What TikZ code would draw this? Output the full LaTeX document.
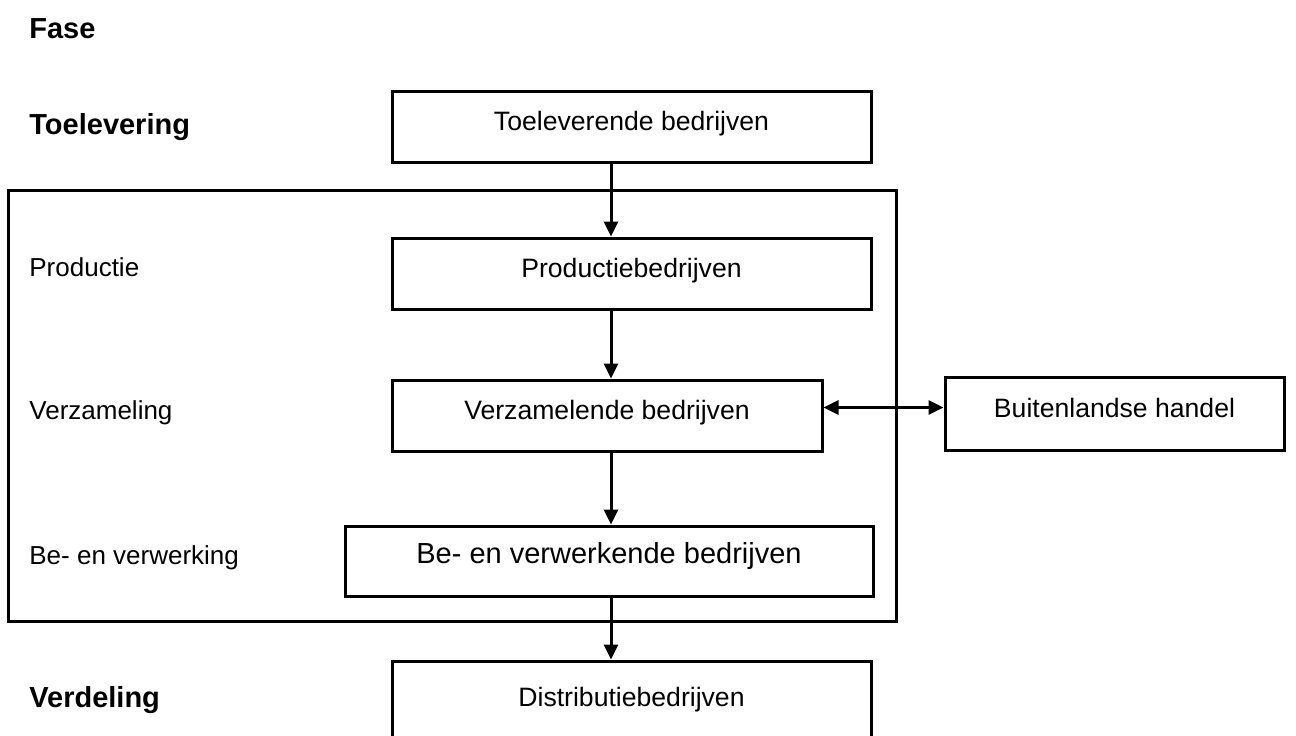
\documentclass[tikz,border=0pt]{standalone}
\usepackage{fontspec}
\setmainfont{Liberation Sans}
\usetikzlibrary{calc, positioning, arrows.meta}

\begin{document}
\begin{tikzpicture}[
    x=0.5pt, y=-0.5pt,
    >={Triangle[length=7.5pt, width=7pt]},
    firm/.style={draw, line width=1.5pt, minimum width=239.5pt, minimum height=35.5pt,
                 inner sep=0pt, text height=9.5pt, text depth=5.2pt,
                 font=\fontsize{13.3}{15}\selectfont},
    fase/.style={anchor=base west, inner sep=0pt, font=\fontsize{13}{15}\selectfont},
    hfase/.style={anchor=base west, inner sep=0pt, font=\fontsize{14.5}{17}\selectfont\bfseries},
    arr/.style={->, line width=1.5pt}
]
\useasboundingbox (0,0) rectangle (1296,735);

\def\xl{29}
\def\xa{611}

\node[hfase] (fase) at (\xl, 38) {Fase};
\node[hfase] (ftoel) at (\xl, 134) {Toelevering};
\node[fase] (fprod) at (\xl, 276) {Productie};
\node[fase] (fverz) at (\xl, 419) {Verzameling};
\node[fase] (fbew) at (\xl, 564) {Be- en verwerking};
\node[hfase] (fverd) at (\xl, 707) {Verdeling};

\draw[line width=1.5pt] (8,190) rectangle (896,621);

\node[firm] (toel) at (631.5, 126.5) {Toeleverende bedrijven};
\node[firm] (prod) at (631.5, 273.5) {Productiebedrijven};
\node[firm, minimum width=215pt] (verz) at (607, 415.5) {Verzamelende bedrijven};
\node[firm, minimum width=264pt, minimum height=35pt, text height=10pt, text depth=8pt,
      font=\fontsize{14.5}{17}\selectfont] (bew) at (609, 561) {Be- en verwerkende bedrijven};
\node[firm, minimum height=45pt, text depth=9.2pt] (dist) at (631.5, 706) {Distributiebedrijven};
\node[firm, minimum width=169.5pt, minimum height=36.5pt] (buit) at (1114.5, 413.5) {Buitenlandse handel};

\coordinate (ax) at (\xa, 0);
\draw[arr] (toel.south -| ax) -- (prod.north -| ax);
\draw[arr] (prod.south -| ax) -- (verz.north -| ax);
\draw[arr] (verz.south -| ax) -- (bew.north -| ax);
\draw[arr] (bew.south -| ax) -- (dist.north -| ax);
\draw[<->, line width=1.5pt] ([yshift=4pt]verz.east) -- ([yshift=4pt]verz.east -| buit.west);

\end{tikzpicture}
\end{document}
